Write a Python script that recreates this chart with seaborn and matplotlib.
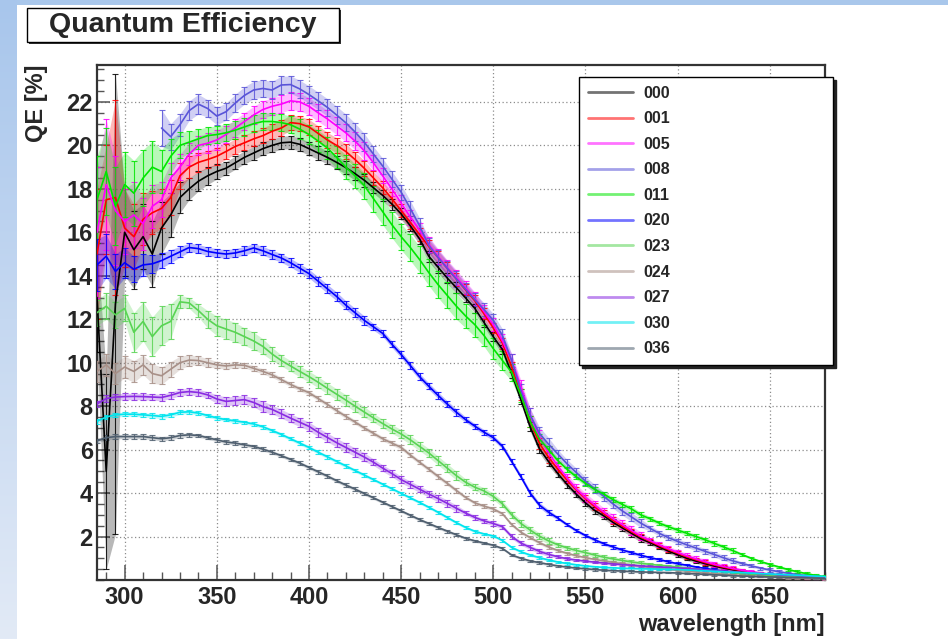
import numpy as np
import pandas as pd
import matplotlib
matplotlib.use("Agg")
import matplotlib.pyplot as plt
import seaborn as sns
from matplotlib.patches import Rectangle
from matplotlib.lines import Line2D
from matplotlib.ticker import MultipleLocator

# ---------------- data ----------------
wavelength = list(range(285, 681, 5))

series_names = ["000", "001", "005", "008", "011", "020", "023", "024", "027", "030", "036"]
series_colors = ["#000000", "#ff0000", "#ff00ff", "#5954d8", "#00e600", "#0000ff",
                 "#59d454", "#a89088", "#8a2be2", "#00e5ee", "#4f5f6f"]
nan = np.nan

qe_000 = [13.0, 5.0, 12.7, 16.0, 15.2, 15.8, 15.0, 16.2, 16.8, 17.6,
          18.0, 18.35, 18.6, 18.8, 18.95, 19.2, 19.45, 19.65, 19.85, 20.0,
          20.12, 20.15, 20.05, 19.85, 19.65, 19.45, 19.22, 18.98, 18.7, 18.4,
          18.05, 17.7, 17.3, 16.85, 16.3, 15.7, 14.9, 14.4, 13.9, 13.45,
          12.98, 12.5, 11.85, 11.2, 10.6, 9.5, 8.3, 7.05, 6.05, 5.45,
          4.9, 4.4, 3.95, 3.55, 3.2, 2.95, 2.65, 2.4, 2.15, 1.9,
          1.72, 1.52, 1.33, 1.16, 1.0, 0.87, 0.75, 0.64, 0.55, 0.47,
          0.4, 0.34, 0.29, 0.24, 0.2, 0.17, 0.14, 0.12, 0.1, 0.08]
err_000 = [2.5, 4.5, 10.6, 2.0, 1.8, 1.5, 1.5, 1.2, 1.0, 0.7,
           0.5, 0.45, 0.4, 0.35, 0.3, 0.3, 0.3, 0.3, 0.3, 0.3,
           0.3, 0.3, 0.3, 0.3, 0.3, 0.3, 0.3, 0.3, 0.3, 0.3,
           0.25, 0.25, 0.25, 0.25, 0.25, 0.25, 0.25, 0.25, 0.25, 0.25,
           0.2, 0.2, 0.2, 0.2, 0.2, 0.2, 0.2, 0.2, 0.2, 0.2,
           0.15, 0.15, 0.15, 0.15, 0.15, 0.15, 0.15, 0.15, 0.15, 0.15,
           0.1, 0.1, 0.1, 0.1, 0.1, 0.1, 0.1, 0.1, 0.1, 0.1,
           0.06, 0.06, 0.06, 0.06, 0.06, 0.06, 0.06, 0.06, 0.06, 0.06]

qe_001 = [15.0, 17.5, 17.6, 16.2, 15.8, 16.6, 16.9, 17.1, 17.6, 18.6,
          19.0, 19.22, 19.35, 19.5, 19.72, 19.95, 20.12, 20.3, 20.45, 20.65,
          20.8, 21.05, 21.0, 20.85, 20.55, 20.25, 20.0, 19.72, 19.35, 18.95,
          18.5, 18.05, 17.55, 17.0, 16.45, 15.9, 15.35, 14.85, 14.35, 13.85,
          13.35, 12.85, 12.25, 11.6, 10.9, 9.8, 8.55, 7.3, 6.3, 5.65,
          5.1, 4.6, 4.15, 3.75, 3.38, 3.05, 2.75, 2.48, 2.22, 1.98,
          1.78, 1.58, 1.4, 1.23, 1.07, 0.93, 0.8, 0.69, 0.59, 0.5,
          0.43, 0.36, 0.31, 0.26, 0.22, 0.18, 0.15, 0.12, 0.1, 0.08]
err_001 = [3.0, 2.5, 4.5, 1.8, 1.5, 1.2, 1.0, 0.9, 0.8, 0.6,
           0.5, 0.45, 0.4, 0.4, 0.35, 0.35, 0.35, 0.35, 0.35, 0.35,
           0.35, 0.35, 0.35, 0.35, 0.35, 0.35, 0.35, 0.35, 0.35, 0.35,
           0.3, 0.3, 0.3, 0.3, 0.3, 0.3, 0.3, 0.3, 0.3, 0.3,
           0.25, 0.25, 0.25, 0.25, 0.25, 0.25, 0.25, 0.25, 0.25, 0.25,
           0.15, 0.15, 0.15, 0.15, 0.15, 0.15, 0.15, 0.15, 0.15, 0.15,
           0.1, 0.1, 0.1, 0.1, 0.1, 0.1, 0.1, 0.1, 0.1, 0.1,
           0.06, 0.06, 0.06, 0.06, 0.06, 0.06, 0.06, 0.06, 0.06, 0.06]

qe_005 = [16.0, 18.2, 17.0, 16.5, 16.8, 16.4, 17.2, 17.5, 18.5, 19.0,
          19.6, 20.0, 20.1, 20.25, 20.5, 20.8, 21.1, 21.4, 21.65, 21.8,
          21.9, 22.05, 22.0, 21.8, 21.5, 21.22, 20.9, 20.58, 20.2, 19.75,
          19.2, 18.6, 18.0, 17.35, 16.7, 16.1, 15.45, 14.9, 14.38, 13.92,
          13.45, 12.95, 12.35, 11.75, 11.0, 10.1, 8.9, 7.6, 6.6, 5.85,
          5.25, 4.7, 4.2, 3.8, 3.45, 3.12, 2.82, 2.55, 2.28, 2.02,
          1.82, 1.62, 1.44, 1.27, 1.11, 0.97, 0.84, 0.72, 0.62, 0.53,
          0.45, 0.38, 0.32, 0.27, 0.23, 0.19, 0.16, 0.13, 0.11, 0.09]
err_005 = [3.0, 3.0, 2.5, 1.5, 1.5, 1.2, 1.0, 0.8, 0.7, 0.6,
           0.5, 0.45, 0.45, 0.45, 0.4, 0.4, 0.4, 0.4, 0.4, 0.4,
           0.4, 0.4, 0.4, 0.4, 0.4, 0.4, 0.4, 0.4, 0.4, 0.4,
           0.35, 0.35, 0.35, 0.35, 0.35, 0.35, 0.35, 0.35, 0.35, 0.35,
           0.3, 0.3, 0.3, 0.3, 0.3, 0.3, 0.3, 0.3, 0.3, 0.3,
           0.2, 0.2, 0.2, 0.2, 0.2, 0.2, 0.2, 0.2, 0.2, 0.2,
           0.12, 0.12, 0.12, 0.12, 0.12, 0.12, 0.12, 0.12, 0.12, 0.12,
           0.07, 0.07, 0.07, 0.07, 0.07, 0.07, 0.07, 0.07, 0.07, 0.07]

qe_008 = [nan, nan, nan, nan, nan, nan, nan, 20.8, 20.4, 20.95,
          21.6, 21.9, 21.7, 21.35, 21.55, 21.95, 22.3, 22.55, 22.62, 22.55,
          22.78, 22.8, 22.6, 22.34, 22.05, 21.75, 21.4, 21.04, 20.62, 20.15,
          19.6, 19.05, 18.45, 17.85, 17.1, 16.3, 15.4, 14.85, 14.35, 13.85,
          13.38, 12.9, 12.45, 11.95, 11.25, 10.1, 8.7, 7.6, 6.75, 6.25,
          5.8, 5.35, 4.95, 4.55, 4.2, 3.85, 3.5, 3.18, 2.9, 2.62,
          2.38, 2.15, 1.95, 1.78, 1.62, 1.47, 1.32, 1.17, 1.02, 0.88,
          0.76, 0.65, 0.55, 0.46, 0.38, 0.31, 0.25, 0.2, 0.16, 0.12]
err_008 = [0.0, 0.0, 0.0, 0.0, 0.0, 0.0, 0.0, 0.85, 0.6, 0.5,
           0.45, 0.45, 0.4, 0.4, 0.4, 0.4, 0.4, 0.4, 0.4, 0.4,
           0.4, 0.4, 0.4, 0.4, 0.4, 0.4, 0.4, 0.4, 0.4, 0.4,
           0.35, 0.35, 0.35, 0.35, 0.35, 0.35, 0.35, 0.35, 0.35, 0.35,
           0.3, 0.3, 0.3, 0.3, 0.3, 0.3, 0.3, 0.3, 0.3, 0.3,
           0.2, 0.2, 0.2, 0.2, 0.2, 0.2, 0.2, 0.2, 0.2, 0.2,
           0.12, 0.12, 0.12, 0.12, 0.12, 0.12, 0.12, 0.12, 0.12, 0.12,
           0.07, 0.07, 0.07, 0.07, 0.07, 0.07, 0.07, 0.07, 0.07, 0.07]

qe_011 = [17.5, 18.8, 17.2, 18.2, 17.8, 18.5, 19.0, 18.8, 19.5, 20.0,
          20.15, 20.3, 20.45, 20.5, 20.58, 20.7, 20.85, 21.0, 21.1, 21.1,
          21.05, 20.95, 20.75, 20.5, 20.2, 19.88, 19.45, 19.0, 18.6, 18.15,
          17.55, 16.95, 16.35, 15.8, 15.3, 14.75, 14.15, 13.6, 13.1, 12.6,
          12.15, 11.75, 11.25, 10.65, 10.1, 9.55, 8.5, 7.3, 6.5, 6.0,
          5.5, 5.1, 4.75, 4.45, 4.17, 3.95, 3.7, 3.48, 3.27, 3.0,
          2.82, 2.62, 2.45, 2.3, 2.15, 2.0, 1.85, 1.68, 1.52, 1.35,
          1.17, 1.0, 0.85, 0.72, 0.6, 0.48, 0.38, 0.29, 0.21, 0.15]
err_011 = [2.0, 2.0, 1.8, 1.5, 1.5, 1.3, 1.2, 1.0, 0.8, 0.6,
           0.5, 0.45, 0.4, 0.4, 0.4, 0.4, 0.4, 0.4, 0.4, 0.4,
           0.4, 0.4, 0.45, 0.45, 0.5, 0.5, 0.5, 0.55, 0.55, 0.6,
           0.6, 0.6, 0.6, 0.6, 0.6, 0.6, 0.6, 0.6, 0.6, 0.6,
           0.55, 0.55, 0.5, 0.5, 0.45, 0.4, 0.3, 0.25, 0.2, 0.15,
           0.12, 0.12, 0.12, 0.12, 0.12, 0.12, 0.12, 0.12, 0.12, 0.12,
           0.1, 0.1, 0.1, 0.1, 0.1, 0.1, 0.1, 0.1, 0.1, 0.1,
           0.06, 0.06, 0.06, 0.06, 0.06, 0.06, 0.06, 0.06, 0.06, 0.06]

qe_020 = [14.5, 14.9, 14.2, 14.6, 14.3, 14.5, 14.55, 14.7, 14.9, 15.1,
          15.3, 15.25, 15.12, 15.05, 15.0, 15.05, 15.15, 15.28, 15.15, 14.98,
          14.82, 14.6, 14.35, 14.1, 13.75, 13.4, 13.05, 12.65, 12.3, 11.95,
          11.65, 11.35, 10.85, 10.38, 9.87, 9.36, 8.92, 8.5, 8.1, 7.72,
          7.38, 7.08, 6.8, 6.55, 6.15, 5.45, 4.75, 4.0, 3.45, 3.12,
          2.85, 2.55, 2.28, 2.05, 1.85, 1.67, 1.52, 1.38, 1.26, 1.14,
          1.03, 0.94, 0.84, 0.75, 0.68, 0.6, 0.53, 0.47, 0.41, 0.36,
          0.32, 0.28, 0.25, 0.22, 0.19, 0.16, 0.14, 0.12, 0.1, 0.08]
err_020 = [1.2, 1.0, 0.8, 0.7, 0.6, 0.5, 0.4, 0.35, 0.3, 0.25,
           0.2, 0.2, 0.2, 0.2, 0.2, 0.2, 0.2, 0.2, 0.2, 0.2,
           0.2, 0.2, 0.2, 0.2, 0.2, 0.2, 0.2, 0.2, 0.2, 0.2,
           0.15, 0.15, 0.15, 0.15, 0.15, 0.15, 0.15, 0.15, 0.15, 0.15,
           0.12, 0.12, 0.12, 0.12, 0.12, 0.12, 0.12, 0.12, 0.12, 0.12,
           0.08, 0.08, 0.08, 0.08, 0.08, 0.08, 0.08, 0.08, 0.08, 0.08,
           0.06, 0.06, 0.06, 0.06, 0.06, 0.06, 0.06, 0.06, 0.06, 0.06,
           0.04, 0.04, 0.04, 0.04, 0.04, 0.04, 0.04, 0.04, 0.04, 0.04]

qe_023 = [12.3, 12.6, 12.2, 12.5, 11.4, 11.9, 11.2, 11.7, 11.9, 12.8,
          12.75, 12.4, 12.0, 11.7, 11.55, 11.4, 11.2, 11.0, 10.75, 10.4,
          10.1, 9.85, 9.6, 9.36, 9.1, 8.82, 8.55, 8.28, 8.0, 7.73,
          7.46, 7.2, 6.95, 6.72, 6.45, 6.15, 5.85, 5.5, 5.15, 4.8,
          4.5, 4.27, 4.1, 3.85, 3.5, 3.0, 2.6, 2.3, 2.02, 1.8,
          1.62, 1.48, 1.36, 1.26, 1.15, 1.05, 0.97, 0.9, 0.83, 0.77,
          0.72, 0.68, 0.64, 0.6, 0.55, 0.5, 0.46, 0.42, 0.38, 0.34,
          0.3, 0.27, 0.24, 0.21, 0.18, 0.16, 0.14, 0.12, 0.1, 0.09]
err_023 = [0.6, 0.6, 0.6, 0.6, 0.9, 0.9, 0.9, 0.9, 0.8, 0.3,
           0.25, 0.3, 0.4, 0.45, 0.45, 0.45, 0.4, 0.4, 0.35, 0.3,
           0.25, 0.25, 0.25, 0.25, 0.25, 0.25, 0.25, 0.25, 0.25, 0.25,
           0.2, 0.2, 0.2, 0.2, 0.2, 0.2, 0.2, 0.2, 0.2, 0.2,
           0.15, 0.15, 0.15, 0.15, 0.15, 0.15, 0.15, 0.15, 0.15, 0.15,
           0.1, 0.1, 0.1, 0.1, 0.1, 0.1, 0.1, 0.1, 0.1, 0.1,
           0.07, 0.07, 0.07, 0.07, 0.07, 0.07, 0.07, 0.07, 0.07, 0.07,
           0.04, 0.04, 0.04, 0.04, 0.04, 0.04, 0.04, 0.04, 0.04, 0.04]

qe_024 = [9.6, 9.9, 9.5, 9.8, 9.6, 9.9, 9.5, 9.4, 9.7, 10.0,
          10.12, 10.1, 10.0, 9.9, 9.85, 9.9, 9.88, 9.74, 9.6, 9.44,
          9.22, 9.0, 8.8, 8.62, 8.35, 8.08, 7.8, 7.53, 7.27, 7.0,
          6.75, 6.5, 6.3, 6.1, 5.75, 5.42, 5.1, 4.77, 4.45, 4.12,
          3.8, 3.55, 3.4, 3.27, 3.05, 2.55, 2.2, 1.95, 1.72, 1.52,
          1.36, 1.23, 1.12, 1.03, 0.95, 0.88, 0.81, 0.75, 0.69, 0.63,
          0.58, 0.53, 0.49, 0.45, 0.41, 0.37, 0.33, 0.3, 0.27, 0.24,
          0.21, 0.18, 0.16, 0.14, 0.12, 0.1, 0.09, 0.08, 0.07, 0.06]
err_024 = [0.5, 0.5, 0.5, 0.5, 0.5, 0.45, 0.45, 0.4, 0.35, 0.3,
           0.25, 0.2, 0.2, 0.15, 0.15, 0.15, 0.12, 0.12, 0.12, 0.12,
           0.1, 0.1, 0.1, 0.1, 0.1, 0.1, 0.1, 0.1, 0.1, 0.1,
           0.1, 0.1, 0.1, 0.1, 0.1, 0.1, 0.1, 0.1, 0.1, 0.1,
           0.08, 0.08, 0.08, 0.08, 0.08, 0.08, 0.08, 0.08, 0.08, 0.08,
           0.06, 0.06, 0.06, 0.06, 0.06, 0.06, 0.06, 0.06, 0.06, 0.06,
           0.05, 0.05, 0.05, 0.05, 0.05, 0.05, 0.05, 0.05, 0.05, 0.05,
           0.04, 0.04, 0.04, 0.04, 0.04, 0.04, 0.04, 0.04, 0.04, 0.04]

qe_027 = [8.1, 8.35, 8.42, 8.44, 8.45, 8.44, 8.42, 8.4, 8.5, 8.63,
          8.67, 8.63, 8.52, 8.33, 8.22, 8.26, 8.3, 8.17, 7.98, 7.85,
          7.65, 7.45, 7.26, 7.07, 6.8, 6.56, 6.32, 6.1, 5.88, 5.66,
          5.42, 5.15, 4.9, 4.62, 4.4, 4.18, 3.96, 3.75, 3.53, 3.3,
          3.08, 2.88, 2.72, 2.6, 2.45, 2.0, 1.7, 1.5, 1.32, 1.18,
          1.07, 0.98, 0.92, 0.87, 0.82, 0.78, 0.74, 0.71, 0.68, 0.65,
          0.62, 0.6, 0.58, 0.56, 0.53, 0.5, 0.47, 0.44, 0.41, 0.38,
          0.35, 0.32, 0.29, 0.27, 0.24, 0.22, 0.2, 0.18, 0.16, 0.14]
err_027 = [0.15, 0.15, 0.15, 0.15, 0.15, 0.15, 0.15, 0.15, 0.15, 0.15,
           0.15, 0.15, 0.15, 0.2, 0.2, 0.2, 0.2, 0.2, 0.25, 0.2,
           0.2, 0.2, 0.2, 0.2, 0.2, 0.2, 0.2, 0.2, 0.2, 0.2,
           0.15, 0.15, 0.15, 0.15, 0.15, 0.15, 0.15, 0.15, 0.15, 0.15,
           0.1, 0.1, 0.1, 0.1, 0.1, 0.1, 0.1, 0.1, 0.1, 0.1,
           0.06, 0.06, 0.06, 0.06, 0.06, 0.06, 0.06, 0.06, 0.06, 0.06,
           0.05, 0.05, 0.05, 0.05, 0.05, 0.05, 0.05, 0.05, 0.05, 0.05,
           0.04, 0.04, 0.04, 0.04, 0.04, 0.04, 0.04, 0.04, 0.04, 0.04]

qe_030 = [7.3, 7.5, 7.6, 7.63, 7.63, 7.6, 7.57, 7.53, 7.6, 7.72,
          7.74, 7.68, 7.57, 7.46, 7.38, 7.32, 7.26, 7.18, 7.05, 6.88,
          6.7, 6.5, 6.3, 6.1, 5.88, 5.67, 5.46, 5.25, 5.04, 4.83,
          4.62, 4.41, 4.2, 3.99, 3.78, 3.57, 3.35, 3.12, 2.88, 2.64,
          2.42, 2.24, 2.12, 2.03, 1.82, 1.5, 1.3, 1.15, 1.03, 0.92,
          0.83, 0.76, 0.7, 0.65, 0.61, 0.58, 0.56, 0.54, 0.53, 0.52,
          0.51, 0.5, 0.49, 0.48, 0.46, 0.44, 0.42, 0.4, 0.38, 0.36,
          0.34, 0.32, 0.3, 0.28, 0.26, 0.24, 0.22, 0.2, 0.18, 0.16]
err_030 = [0.1, 0.1, 0.1, 0.1, 0.1, 0.1, 0.1, 0.1, 0.1, 0.1,
           0.08, 0.08, 0.08, 0.08, 0.08, 0.08, 0.08, 0.08, 0.08, 0.08,
           0.08, 0.08, 0.08, 0.08, 0.08, 0.08, 0.08, 0.08, 0.08, 0.08,
           0.07, 0.07, 0.07, 0.07, 0.07, 0.07, 0.07, 0.07, 0.07, 0.07,
           0.06, 0.06, 0.06, 0.06, 0.06, 0.06, 0.06, 0.06, 0.06, 0.06,
           0.05, 0.05, 0.05, 0.05, 0.05, 0.05, 0.05, 0.05, 0.05, 0.05,
           0.04, 0.04, 0.04, 0.04, 0.04, 0.04, 0.04, 0.04, 0.04, 0.04,
           0.03, 0.03, 0.03, 0.03, 0.03, 0.03, 0.03, 0.03, 0.03, 0.03]

qe_036 = [6.4, 6.55, 6.6, 6.6, 6.6, 6.6, 6.55, 6.5, 6.55, 6.65,
          6.68, 6.65, 6.55, 6.45, 6.35, 6.3, 6.22, 6.15, 6.02, 5.88,
          5.72, 5.55, 5.38, 5.18, 4.98, 4.78, 4.57, 4.37, 4.18, 3.98,
          3.78, 3.58, 3.38, 3.18, 2.98, 2.78, 2.6, 2.42, 2.25, 2.08,
          1.92, 1.8, 1.7, 1.6, 1.45, 1.15, 1.0, 0.88, 0.8, 0.72,
          0.65, 0.6, 0.55, 0.52, 0.48, 0.45, 0.43, 0.41, 0.39, 0.37,
          0.36, 0.35, 0.34, 0.32, 0.3, 0.28, 0.26, 0.24, 0.22, 0.2,
          0.18, 0.17, 0.15, 0.14, 0.13, 0.12, 0.11, 0.1, 0.09, 0.08]
err_036 = [0.1, 0.1, 0.1, 0.1, 0.1, 0.1, 0.1, 0.1, 0.1, 0.1,
           0.08, 0.08, 0.08, 0.08, 0.08, 0.08, 0.08, 0.08, 0.08, 0.08,
           0.08, 0.08, 0.08, 0.08, 0.08, 0.08, 0.08, 0.08, 0.08, 0.08,
           0.07, 0.07, 0.07, 0.07, 0.07, 0.07, 0.07, 0.07, 0.07, 0.07,
           0.06, 0.06, 0.06, 0.06, 0.06, 0.06, 0.06, 0.06, 0.06, 0.06,
           0.05, 0.05, 0.05, 0.05, 0.05, 0.05, 0.05, 0.05, 0.05, 0.05,
           0.04, 0.04, 0.04, 0.04, 0.04, 0.04, 0.04, 0.04, 0.04, 0.04,
           0.03, 0.03, 0.03, 0.03, 0.03, 0.03, 0.03, 0.03, 0.03, 0.03]

qe_values = [qe_000, qe_001, qe_005, qe_008, qe_011, qe_020, qe_023, qe_024, qe_027, qe_030, qe_036]
qe_errors = [err_000, err_001, err_005, err_008, err_011, err_020, err_023, err_024, err_027, err_030, err_036]

x_ticks = [300, 350, 400, 450, 500, 550, 600, 650]
y_ticks = [2, 4, 6, 8, 10, 12, 14, 16, 18, 20, 22]

# ---------------- build table ----------------
rows = []
for name, vals, errs in zip(series_names, qe_values, qe_errors):
    for w, v, e in zip(wavelength, vals, errs):
        rows.append({"series": name, "wavelength": w, "qe": v, "err": e})
df = pd.DataFrame(rows)
palette = dict(zip(series_names, series_colors))

# ---------------- style ----------------
sns.set_style("ticks")
plt.rcParams["font.family"] = ["Liberation Sans", "DejaVu Sans"]
plt.rcParams["font.weight"] = "bold"
plt.rcParams["axes.labelweight"] = "bold"

W, H = 948, 639
fig = plt.figure(figsize=(W / 100, H / 100), dpi=100)
fig.patch.set_facecolor("white")

# slide-like background strips
bg = fig.add_axes([0, 0, 17 / W, 1])
grad = np.linspace(0, 1, 256).reshape(-1, 1)
top_c = np.array([168, 198, 236]) / 255
bot_c = np.array([226, 234, 246]) / 255
img = top_c[None, None, :] * (1 - grad[:, :, None]) + bot_c[None, None, :] * grad[:, :, None]
bg.imshow(img, aspect="auto", extent=[0, 1, 0, 1])
bg.axis("off")
fig.add_artist(Rectangle((0, 1 - 5 / H), 1, 5 / H, transform=fig.transFigure,
                         facecolor="#a9c7eb", edgecolor="none", zorder=0))

ax = fig.add_axes([97 / W, 1 - 580 / H, (825 - 97) / W, (580 - 65) / H])
ax.set_facecolor("white")

for name, color in zip(series_names, series_colors):
    sub = df[df["series"] == name]
    x = sub["wavelength"].to_numpy(float)
    y = sub["qe"].to_numpy(float)
    e = sub["err"].to_numpy(float)
    ax.fill_between(x, y - e, y + e, color=color, alpha=0.28, lw=0, zorder=2)
    ax.errorbar(x, y, yerr=e, fmt="none", ecolor=color, elinewidth=0.8,
                capsize=2.5, capthick=0.8, alpha=0.85, zorder=3)

sns.lineplot(data=df.dropna(subset=["qe"]), x="wavelength", y="qe", hue="series",
             hue_order=series_names, palette=palette, legend=False, ax=ax,
             linewidth=1.2, estimator=None, zorder=4)

ax.set_xlim(285, 680)
ax.set_ylim(0, 23.7)
ax.set_xticks(x_ticks)
ax.set_yticks(y_ticks)
ax.xaxis.set_minor_locator(MultipleLocator(10))
ax.yaxis.set_minor_locator(MultipleLocator(0.5))
ax.grid(True, which="major", linestyle=(0, (1, 2)), color="#8c8c8c", linewidth=0.9, zorder=1)
ax.set_axisbelow(True)

ax.tick_params(axis="both", which="both", direction="in", top=False, right=False,
               color="#555555")
ax.tick_params(axis="x", which="major", length=11, width=1.1, labelsize=17, pad=4)
ax.tick_params(axis="x", which="minor", length=5.5, width=1.0)
ax.tick_params(axis="y", which="major", length=9, width=1.1, labelsize=17, pad=3)
ax.tick_params(axis="y", which="minor", length=5, width=1.0)
for sp in ax.spines.values():
    sp.set_linewidth(1.6)
    sp.set_color("#333333")

ax.set_xlabel("wavelength [nm]", fontsize=17, fontweight="bold", loc="right")
ax.xaxis.set_label_coords(1.0, -(625 - 580) / 515)
ax.xaxis.label.set_va("center")
ax.set_ylabel("QE [%]", fontsize=17, fontweight="bold", loc="top")
ax.yaxis.set_label_coords(-(97 - 37) / 728, 1.0)
ax.yaxis.label.set_va("center")

# legend
handles = [Line2D([0], [0], color=c, lw=2, alpha=0.55) for c in series_colors]
leg = ax.legend(handles, series_names, loc="upper left",
                bbox_to_anchor=(579 / W, 0.3, (833 - 579) / W, (1 - 77 / H) - 0.3),
                bbox_transform=fig.transFigure, mode="expand", borderaxespad=0,
                prop={"family": "Liberation Sans", "weight": "bold", "size": 11.5},
                handlelength=2.8, handletextpad=0.65, labelspacing=0.66,
                borderpad=0.55, fancybox=False, framealpha=1,
                edgecolor="black", shadow={"color": "#222222", "alpha": 1})
leg.get_frame().set_linewidth(1.0)

# title box
fig.add_artist(Rectangle((29 / W, 1 - 44 / H), 312 / W, 34 / H, transform=fig.transFigure,
                         facecolor="#333333", edgecolor="none", zorder=5))
fig.add_artist(Rectangle((27 / W, 1 - 42 / H), 312 / W, 34 / H, transform=fig.transFigure,
                         facecolor="white", edgecolor="black", linewidth=1.0, zorder=6))
fig.text(183 / W, 1 - 25 / H, "Quantum Efficiency", ha="center", va="center",
         fontsize=20.5, fontweight="bold", zorder=7)

fig.savefig("out.png", dpi=100)
